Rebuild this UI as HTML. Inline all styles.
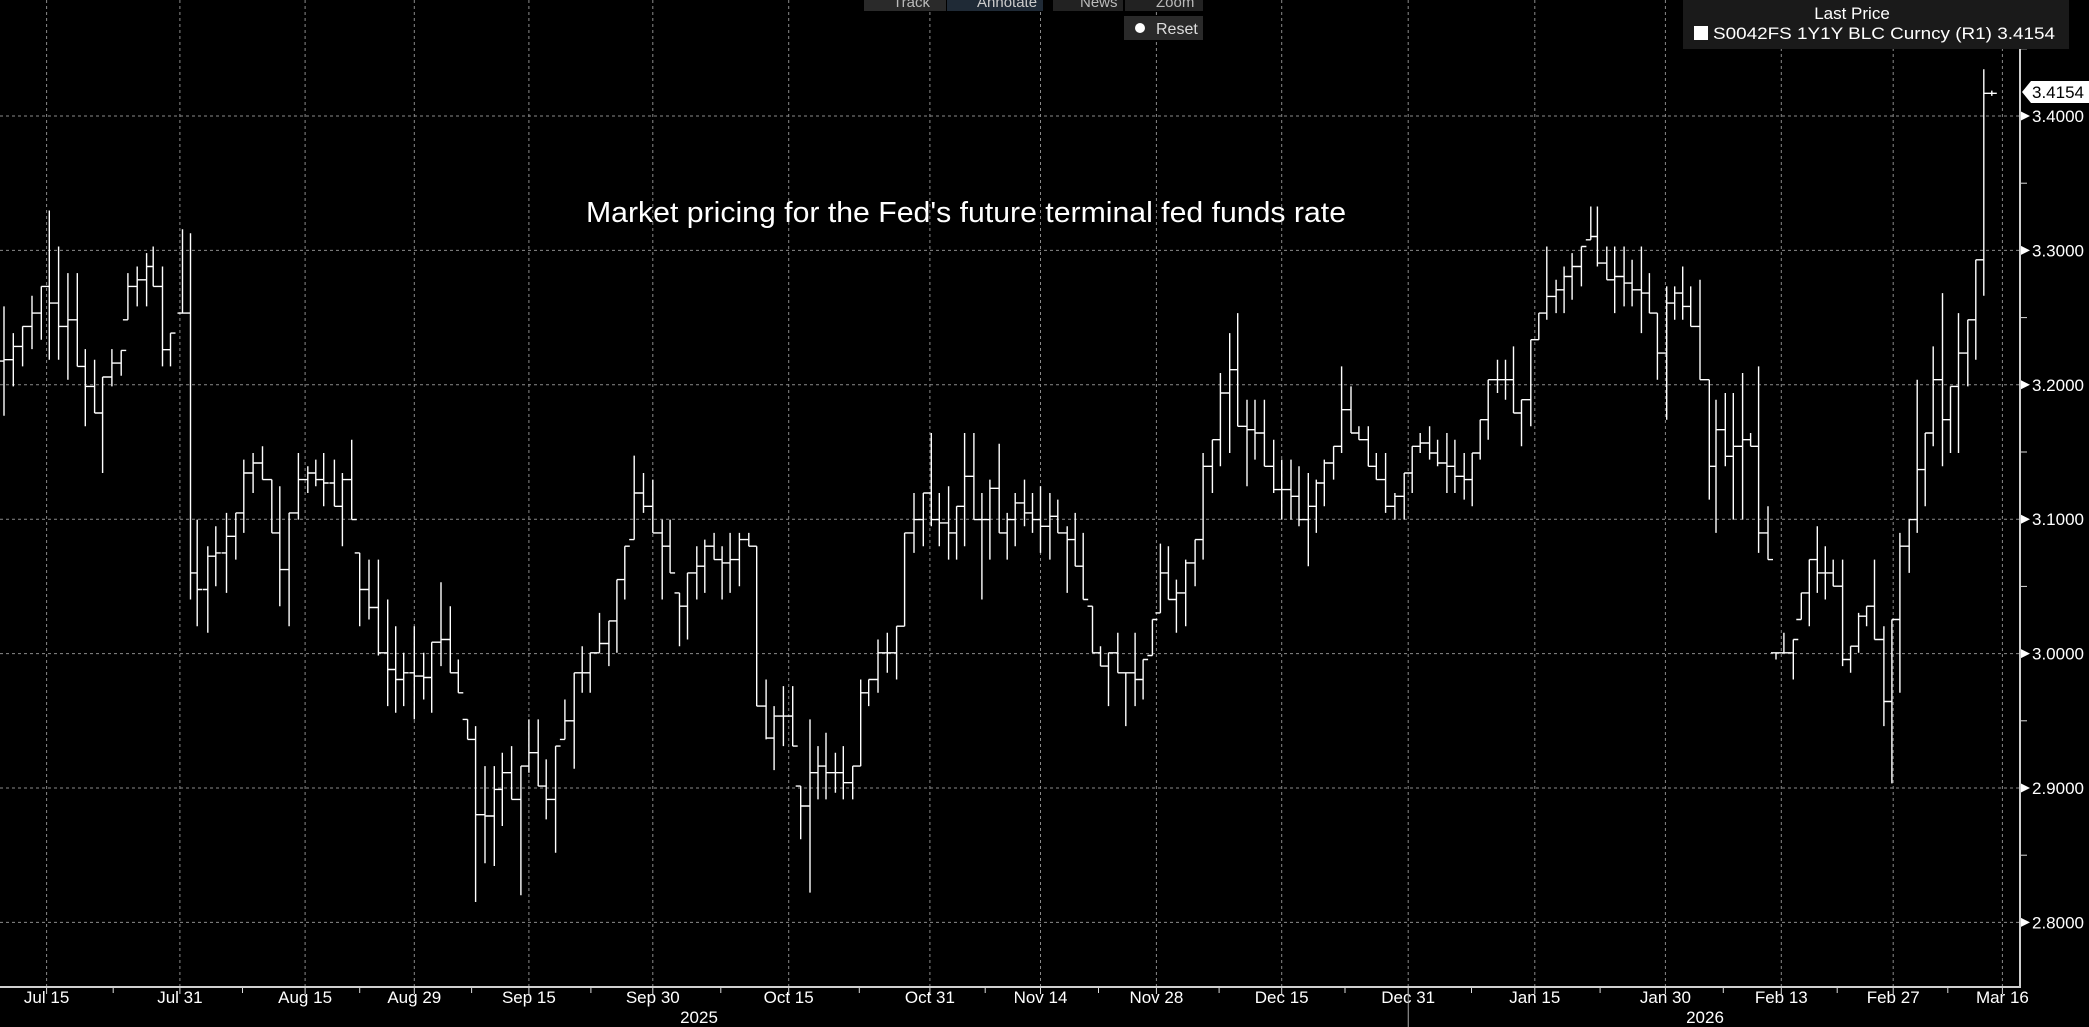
<!DOCTYPE html>
<html><head><meta charset="utf-8"><style>
html,body{margin:0;padding:0;background:#000;width:2089px;height:1027px;overflow:hidden}
svg{display:block}
text{font-family:"Liberation Sans Narrow","Liberation Sans",sans-serif;fill:#fff}
</style></head><body>
<svg id="s" width="2089" height="1027" viewBox="0 0 2089 1027" xmlns="http://www.w3.org/2000/svg"></svg>
<script>
const S=1.3323, s=document.getElementById('s');
let h='';
const gy=v=>116+(3.4-v)*1344;
[3.4,3.3,3.2,3.1,3.0,2.9,2.8].forEach(v=>{const y=gy(v).toFixed(1);
h+=`<line x1="0" y1="${y}" x2="2020" y2="${y}" stroke="#8a8a8a" stroke-width="1" stroke-dasharray="3,3"/>`;
h+=`<polygon points="2020,${y-5} 2030,${y} 2020,${+y+5}" fill="#fff"/>`;
h+=`<text x="2032" y="${+y+6}" font-size="17">${v.toFixed(4)}</text>`;});
[3.45,3.35,3.25,3.15,3.05,2.95,2.85,2.75].forEach(v=>{const y=gy(v);if(y>0&&y<987)h+=`<line x1="2020" y1="${y}" x2="2027" y2="${y}" stroke="#ddd"/>`;});
const xl=[[35,'Jul 15'],[135,'Jul 31'],[229,'Aug 15'],[311,'Aug 29'],[397,'Sep 15'],[490,'Sep 30'],[592,'Oct 15'],[698,'Oct 31'],[781,'Nov 14'],[868,'Nov 28'],[962,'Dec 15'],[1057,'Dec 31'],[1152,'Jan 15'],[1250,'Jan 30'],[1337,'Feb 13'],[1421,'Feb 27'],[1503,'Mar 16']];
xl.forEach(([x,l],i)=>{const X=(x*S).toFixed(1);
h+=`<line x1="${X}" y1="0" x2="${X}" y2="987" stroke="#8a8a8a" stroke-dasharray="3,3"/>`;
h+=`<line x1="${X}" y1="987" x2="${X}" y2="994" stroke="#ddd"/>`;
h+=`<text x="${X}" y="1003" font-size="17" text-anchor="middle">${l}</text>`;
if(i<xl.length-1){const m=((x+xl[i+1][0])/2*S).toFixed(1);h+=`<line x1="${m}" y1="987" x2="${m}" y2="993" stroke="#ddd"/>`;}});
h+=`<line x1="${1057*S}" y1="987" x2="${1057*S}" y2="1027" stroke="#aaa"/>`;
h+=`<text x="${699}" y="1023" font-size="17" text-anchor="middle">2025</text>`;
h+=`<text x="${1705}" y="1023" font-size="17" text-anchor="middle">2026</text>`;
h+=`<line x1="0" y1="987" x2="2021" y2="987" stroke="#cfcfcf" stroke-width="2"/>`;
h+=`<line x1="2020" y1="0" x2="2020" y2="988" stroke="#cfcfcf" stroke-width="2"/>`;
const d=[[3,230,312],[10,250,290],[17,245,275],[24,222,262],[31,215,255],[37,158,270],[44,185,270],[51,205,285],[58,205,275],[64,262,320],[71,270,310],[77,283,355],[84,262,290],[91,263,282],[96,205,240],[103,200,230],[110,190,230],[115,185,215],[122,200,275],[128,250,275],[137,172,235],[143,175,450],[148,390,470],[156,410,475],[162,395,440],[170,385,445],[177,385,420],[183,345,400],[190,340,370],[197,335,360],[204,360,400],[210,365,455],[217,385,470],[224,340,390],[231,350,370],[237,345,365],[243,340,380],[251,345,380],[257,355,410],[264,330,390],[270,415,470],[277,420,465],[284,420,492],[291,450,530],[297,470,535],[303,490,530],[311,470,540],[318,490,525],[324,482,535],[331,437,500],[338,455,505],[344,495,520],[351,540,555],[357,545,677],[364,575,648],[371,575,650],[377,565,620],[384,560,600],[391,575,672],[397,540,580],[404,540,590],[410,570,615],[417,560,640],[424,525,555],[431,505,577],[437,485,520],[443,490,520],[450,460,490],[457,466,500],[463,435,490],[469,410,450],[476,342,405],[483,355,385],[490,360,400],[497,390,450],[503,390,430],[510,445,485],[516,430,480],[523,410,450],[529,405,445],[536,400,420],[542,410,450],[548,400,445],[555,400,440],[562,400,410],[568,410,530],[575,510,555],[581,530,578],[588,515,560],[595,515,560],[601,590,630],[608,540,670],[614,560,600],[620,550,600],[627,565,595],[633,560,600],[640,575,600],[646,510,575],[652,510,530],[659,480,520],[666,475,505],[673,470,510],[679,400,470],[686,370,415],[693,370,410],[699,325,395],[705,370,410],[712,365,420],[718,380,420],[724,325,410],[731,325,390],[737,370,450],[743,360,420],[750,333,400],[756,385,420],[762,370,410],[769,360,395],[775,370,400],[781,365,415],[788,370,420],[794,375,400],[801,395,445],[807,385,425],[813,400,450],[820,455,490],[826,485,500],[832,490,530],[839,475,505],[845,505,545],[852,475,530],[858,495,525],[865,465,492],[871,408,460],[877,410,450],[883,435,475],[890,420,470],[897,405,440],[903,340,420],[910,330,370],[916,280,350],[923,250,340],[929,235,320],[936,300,365],[942,300,345],[949,300,350],[956,330,370],[962,345,390],[969,345,390],[975,350,395],[982,355,425],[988,360,400],[994,345,380],[1001,335,360],[1007,275,340],[1014,290,325],[1020,320,330],[1027,320,350],[1033,340,360],[1040,340,385],[1047,370,390],[1054,355,390],[1060,335,370],[1066,325,340],[1073,320,345],[1079,330,350],[1086,325,370],[1092,330,370],[1099,340,375],[1105,340,380],[1111,315,345],[1117,285,330],[1124,270,295],[1130,270,300],[1136,260,310],[1142,300,335],[1149,255,320],[1155,235,255],[1161,185,240],[1168,210,235],[1174,200,235],[1180,190,225],[1187,185,215],[1194,155,180],[1199,155,200],[1206,185,210],[1212,185,235],[1219,185,230],[1225,195,230],[1232,185,250],[1238,205,235],[1244,235,285],[1251,215,315],[1257,215,240],[1263,200,240],[1269,215,245],[1276,210,285],[1283,285,375],[1288,300,400],[1295,295,350],[1301,295,390],[1308,280,390],[1314,325,335],[1320,275,415],[1327,380,420],[1333,490,495],[1339,475,490],[1346,480,510],[1352,445,465],[1358,420,470],[1364,395,445],[1370,410,450],[1376,420,440],[1383,420,500],[1389,485,505],[1395,460,490],[1401,455,470],[1407,420,480],[1414,470,545],[1420,465,588],[1426,400,520],[1433,390,430],[1439,285,400],[1445,325,380],[1451,260,335],[1458,220,350],[1464,290,340],[1470,235,340],[1477,240,290],[1483,195,270],[1489,52,222],[1495,68,72]];
const mid=b=>(b[1]+b[2])/2, cl=(v,a,b)=>Math.max(a,Math.min(b,v));
let prevC=mid(d[0]);let p='';
d.forEach((b,i)=>{const nx=d[i+1]?mid(d[i+1]):70;
let o=cl(prevC,b[1],b[2]),c=cl(nx,b[1],b[2]);if(i==d.length-1)c=70;
const X=b[0]*S;
p+=`M${X.toFixed(1)} ${(b[1]*S).toFixed(1)}V${(b[2]*S).toFixed(1)}M${(X-5).toFixed(1)} ${(o*S).toFixed(1)}H${X.toFixed(1)}M${X.toFixed(1)} ${(c*S).toFixed(1)}H${(X+5).toFixed(1)}`;
prevC=c;});
h+=`<path d="${p}" stroke="#fff" stroke-width="1.4" fill="none"/>`;
const ly=92;
h+=`<polygon points="2022,${ly} 2031,${ly-11} 2089,${ly-11} 2089,${ly+11} 2031,${ly+11}" fill="#fff"/>`;
h+=`<text x="2032" y="${ly+6}" font-size="17" style="fill:#000">3.4154</text>`;
h+=`<text x="586" y="222" font-size="29" textLength="760" lengthAdjust="spacingAndGlyphs">Market pricing for the Fed's future terminal fed funds rate</text>`;
h+=`<rect x="1683" y="0" width="386" height="49" fill="#1a1a1a"/>`;
h+=`<text x="1852" y="19" font-size="17" text-anchor="middle">Last Price</text>`;
h+=`<rect x="1694" y="26" width="14" height="14" fill="#fff"/>`;
h+=`<text x="1713" y="39" font-size="17" textLength="342" lengthAdjust="spacingAndGlyphs">S0042FS 1Y1Y BLC Curncy  (R1) 3.4154</text>`;
h+=`<rect x="864" y="0" width="82" height="11" fill="#2a2a2a"/><text x="893" y="7" font-size="15" style="fill:#bbb">Track</text>`;
h+=`<rect x="947" y="0" width="96" height="11" fill="#1f2a36"/><text x="977" y="7" font-size="15" style="fill:#ccc">Annotate</text>`;
h+=`<rect x="1053" y="0" width="70" height="11" fill="#222"/><text x="1080" y="7" font-size="15" style="fill:#bbb">News</text>`;
h+=`<rect x="1125" y="0" width="78" height="11" fill="#222"/><text x="1156" y="7" font-size="15" style="fill:#bbb">Zoom</text>`;
h+=`<rect x="1124" y="16" width="79" height="24" fill="#2a2a2a"/><circle cx="1140" cy="28" r="5" fill="#fff"/><text x="1156" y="34" font-size="16" style="fill:#ddd">Reset</text>`;
s.innerHTML=h;
</script>
</body></html>
